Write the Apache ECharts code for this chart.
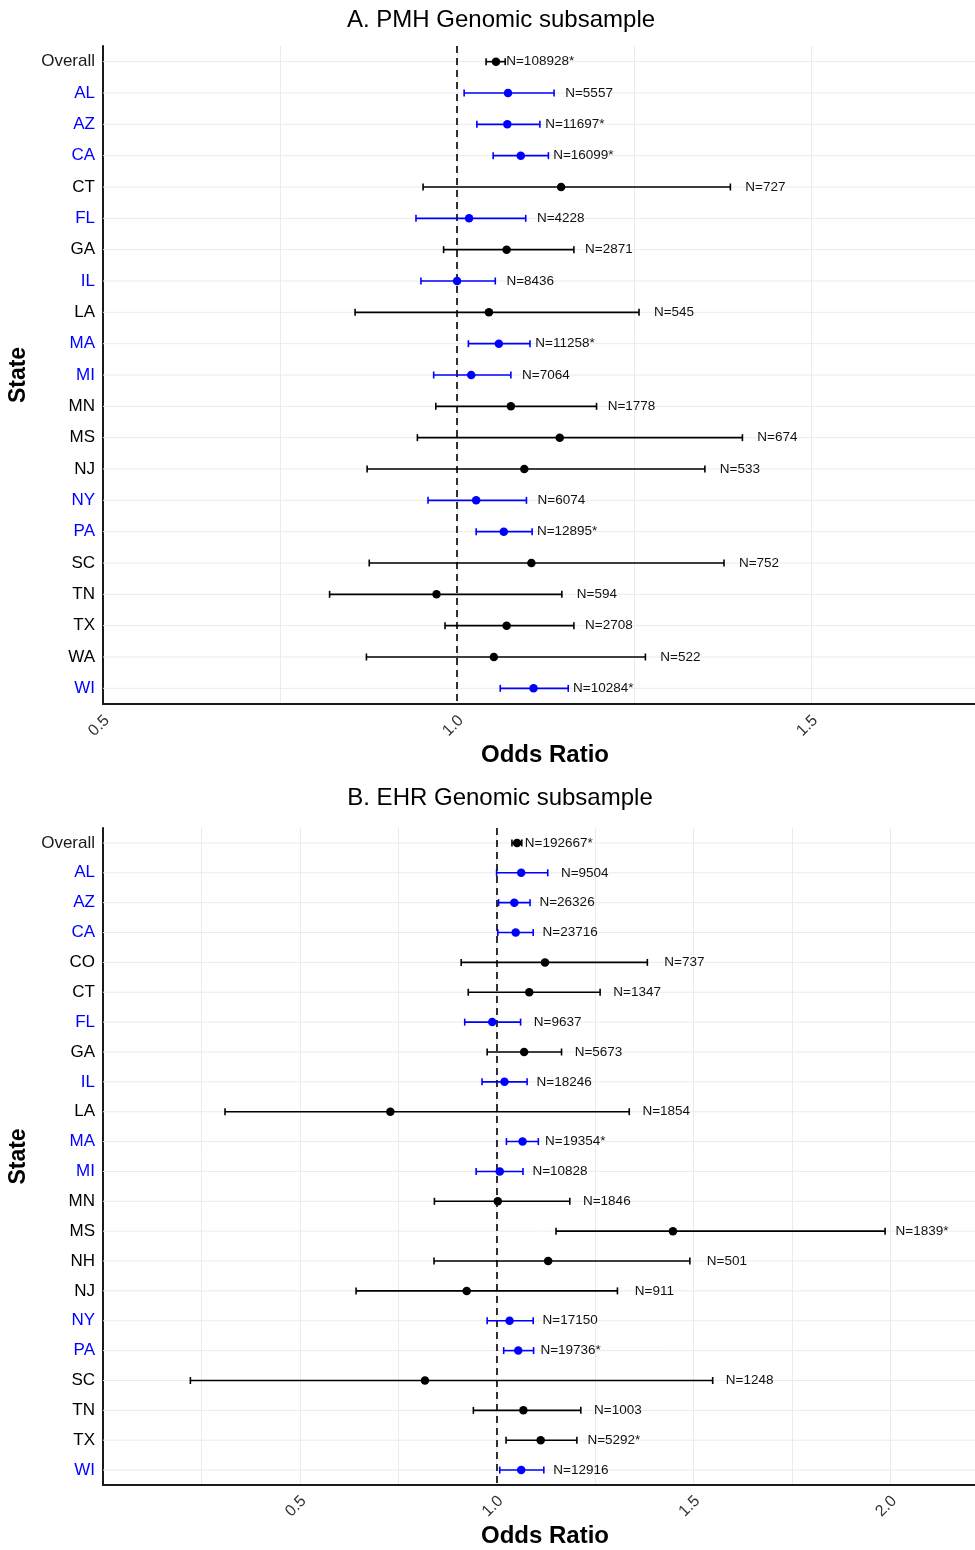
<!DOCTYPE html>
<html>
<head>
<meta charset="utf-8">
<title>Odds Ratio by State</title>
<script src="https://cdn.jsdelivr.net/npm/echarts@6/dist/echarts.min.js"></script>
<style>
html, body { margin: 0; padding: 0; background: #fff; overflow: hidden; }
#main { width: 975px; height: 1550px; }
</style>
</head>
<body>
<div id="main"></div>
<script>
// A. PMH Genomic subsample
var statesA = ["Overall", "AL", "AZ", "CA", "CT", "FL", "GA", "IL", "LA", "MA", "MI", "MN", "MS", "NJ", "NY", "PA", "SC", "TN", "TX", "WA", "WI"];
var orA   = [1.055, 1.072, 1.071, 1.090, 1.147, 1.017, 1.070, 1.000, 1.045, 1.059, 1.020, 1.076, 1.145, 1.095, 1.027, 1.066, 1.105, 0.971, 1.070, 1.052, 1.108];
var lowA  = [1.041, 1.010, 1.028, 1.051, 0.952, 0.942, 0.981, 0.949, 0.856, 1.016, 0.967, 0.970, 0.944, 0.873, 0.959, 1.027, 0.876, 0.820, 0.983, 0.872, 1.061];
var highA = [1.068, 1.137, 1.117, 1.129, 1.386, 1.097, 1.165, 1.054, 1.257, 1.103, 1.076, 1.197, 1.403, 1.350, 1.098, 1.106, 1.377, 1.148, 1.165, 1.266, 1.157];
var nA    = ["108928*", "5557", "11697*", "16099*", "727", "4228", "2871", "8436", "545", "11258*", "7064", "1778", "674", "533", "6074", "12895*", "752", "594", "2708", "522", "10284*"];
var ticksA = [0.5, 1.0, 1.5];

// B. EHR Genomic subsample
var statesB = ["Overall", "AL", "AZ", "CA", "CO", "CT", "FL", "GA", "IL", "LA", "MA", "MI", "MN", "MS", "NH", "NJ", "NY", "PA", "SC", "TN", "TX", "WI"];
var orB   = [1.052, 1.0625, 1.045, 1.0485, 1.123, 1.083, 0.989, 1.070, 1.020, 0.730, 1.066, 1.008, 1.003, 1.448, 1.131, 0.924, 1.033, 1.055, 0.818, 1.068, 1.112, 1.0625];
var lowB  = [1.039, 1.000, 1.005, 1.003, 0.910, 0.928, 0.919, 0.976, 0.963, 0.310, 1.025, 0.948, 0.842, 1.151, 0.841, 0.643, 0.976, 1.018, 0.222, 0.941, 1.024, 1.008];
var highB = [1.064, 1.130, 1.085, 1.093, 1.383, 1.263, 1.061, 1.165, 1.0775, 1.337, 1.106, 1.067, 1.186, 1.987, 1.491, 1.307, 1.093, 1.094, 1.549, 1.214, 1.204, 1.120];
var nB    = ["192667*", "9504", "26326", "23716", "737", "1347", "9637", "5673", "18246", "1854", "19354*", "10828", "1846", "1839*", "501", "911", "17150", "19736*", "1248", "1003", "5292*", "12916"];
var ticksB = [0.5, 1.0, 1.5, 2.0];

// states drawn in blue
var blueStates = ["AL", "AZ", "CA", "FL", "IL", "MA", "MI", "NY", "PA", "WI"];

var FONT = "'Liberation Sans', Arial, Helvetica, sans-serif";
var BLUE = "#0000ff";
var BLACK = "#000000";

function colorOf(name) {
    return blueStates.indexOf(name) >= 0 ? BLUE : BLACK;
}

function rowData(states, low, high) {
    var arr = [];
    for (var i = 0; i < states.length; i++) {
        arr.push([i, low[i], high[i]]);
    }
    return arr;
}

function pointData(states, or) {
    var arr = [];
    for (var i = 0; i < states.length; i++) {
        arr.push({ value: [or[i], i], itemStyle: { color: colorOf(states[i]), opacity: 1 } });
    }
    return arr;
}

//horizontal grid line of each row
function renderRowLine(params, api) {
    var p = api.coord([api.value(1), api.value(0)]);
    var cs = params.coordSys;
    return {
        type: "line",
        shape: { x1: cs.x, y1: p[1], x2: cs.x + cs.width, y2: p[1] },
        style: { stroke: "#ebebeb", lineWidth: 1 },
        silent: true
    };
}

//error bar with caps and N label
function makeBarRenderer(states, ns, labelOffset) {
    return function (params, api) {
        var idx = api.value(0);
        var p1 = api.coord([api.value(1), idx]);
        var p2 = api.coord([api.value(2), idx]);
        var color = colorOf(states[idx]);
        var h = 3.5;
        return {
            type: "group",
            children: [
                { type: "line", shape: { x1: p1[0], y1: p1[1], x2: p2[0], y2: p2[1] }, style: { stroke: color, lineWidth: 1.6 } },
                { type: "line", shape: { x1: p1[0], y1: p1[1] - h, x2: p1[0], y2: p1[1] + h }, style: { stroke: color, lineWidth: 1.6 } },
                { type: "line", shape: { x1: p2[0], y1: p2[1] - h, x2: p2[0], y2: p2[1] + h }, style: { stroke: color, lineWidth: 1.6 } },
                {
                    type: "text",
                    x: p2[0] + labelOffset,
                    y: p2[1],
                    style: {
                        text: "N=" + ns[idx],
                        fill: "#111",
                        font: "13.5px " + FONT,
                        align: "center",
                        verticalAlign: "middle"
                    }
                }
            ]
        };
    };
}

function tickFormatter(ticks) {
    return function (v) {
        for (var i = 0; i < ticks.length; i++) {
            if (Math.abs(ticks[i] - v) < 1e-6) {
                return ticks[i].toFixed(1);
            }
        }
        return "";
    };
}

function makeXAxis(gridIndex, min, max, ticks, margin) {
    return {
        type: "value",
        gridIndex: gridIndex,
        min: min,
        max: max,
        interval: 0.25,
        name: "Odds Ratio",
        nameLocation: "middle",
        nameGap: 39,
        // box is wider than the visible page, pull the title back to the visible centre
        nameTextStyle: { color: "#000", fontSize: 24, fontWeight: "bold", fontFamily: FONT, padding: [0, 16, 0, 0] },
        axisLine: { show: true, lineStyle: { color: "#1a1a1a", width: 2 } },
        axisTick: { show: false },
        axisLabel: {
            rotate: 45,
            align: "center",
            verticalAlign: "middle",
            padding: [0, 11, 0, 0],
            margin: margin,
            color: "#333",
            fontSize: 16,
            fontFamily: FONT,
            formatter: tickFormatter(ticks)
        },
        splitLine: { show: true, showMaxLine: false, lineStyle: { color: "#ebebeb", width: 1 } }
    };
}

function makeYAxis(gridIndex, states) {
    return {
        type: "category",
        gridIndex: gridIndex,
        data: states,
        inverse: true,
        name: "State",
        nameLocation: "middle",
        nameRotate: 90,
        nameGap: 66,
        nameTextStyle: { color: "#000", fontSize: 23, fontWeight: "bold", fontFamily: FONT },
        axisLine: { show: true, lineStyle: { color: "#1a1a1a", width: 2 } },
        axisTick: { show: false },
        axisLabel: {
            margin: 8,
            fontSize: 17,
            fontFamily: FONT,
            color: function (value) {
                return value == "Overall" ? "#1a1a1a" : colorOf(value);
            }
        },
        splitLine: { show: false }
    };
}

function makeSeries(gridIndex, states, or, low, high, ns, labelOffset) {
    var rows = rowData(states, low, high);
    return [
        {
            type: "custom",
            xAxisIndex: gridIndex,
            yAxisIndex: gridIndex,
            z: 1,
            silent: true,
            renderItem: renderRowLine,
            encode: { x: [1, 2], y: 0 },
            data: rows
        },
        {
            type: "custom",
            xAxisIndex: gridIndex,
            yAxisIndex: gridIndex,
            z: 2,
            silent: true,
            renderItem: makeBarRenderer(states, ns, labelOffset),
            encode: { x: [1, 2], y: 0 },
            data: rows
        },
        {
            type: "scatter",
            xAxisIndex: gridIndex,
            yAxisIndex: gridIndex,
            z: 3,
            symbol: "circle",
            symbolSize: 8.5,
            silent: true,
            itemStyle: { opacity: 1 },
            data: pointData(states, or),
            markLine: {
                silent: true,
                symbol: ["none", "none"],
                label: { show: false },
                z: 2,
                lineStyle: { color: "#000", width: 1.6, type: [7, 5] },
                data: [{ xAxis: 1 }]
            }
        }
    ];
}

function showChart() {
    var chart = echarts.init(document.getElementById("main"), null, { renderer: "canvas" });
    var option = {
        backgroundColor: "#fff",
        animation: false,
        title: [
            {
                text: "A. PMH Genomic subsample",
                left: 501, top: 8, padding: 0,
                textAlign: "center",
                textStyle: { color: "#000", fontSize: 24, fontWeight: "normal", fontFamily: FONT }
            },
            {
                text: "B. EHR Genomic subsample",
                left: 500, top: 786, padding: 0,
                textAlign: "center",
                textStyle: { color: "#000", fontSize: 24, fontWeight: "normal", fontFamily: FONT }
            }
        ],
        // plot area runs past the right edge, as in the cropped original
        grid: [
            { left: 103, width: 900, top: 46, height: 658, outerBoundsMode: "none" },
            { left: 103, width: 900, top: 828, height: 657, outerBoundsMode: "none" }
        ],
        xAxis: [
            makeXAxis(0, 0.5, 1.771, ticksA, 18),
            makeXAxis(1, 0, 2.2866, ticksB, 17.5)
        ],
        yAxis: [
            makeYAxis(0, statesA),
            makeYAxis(1, statesB)
        ],
        series: makeSeries(0, statesA, orA, lowA, highA, nA, 35)
            .concat(makeSeries(1, statesB, orB, lowB, highB, nB, 37))
    };
    chart.setOption(option);
}

showChart();
</script>
</body>
</html>
